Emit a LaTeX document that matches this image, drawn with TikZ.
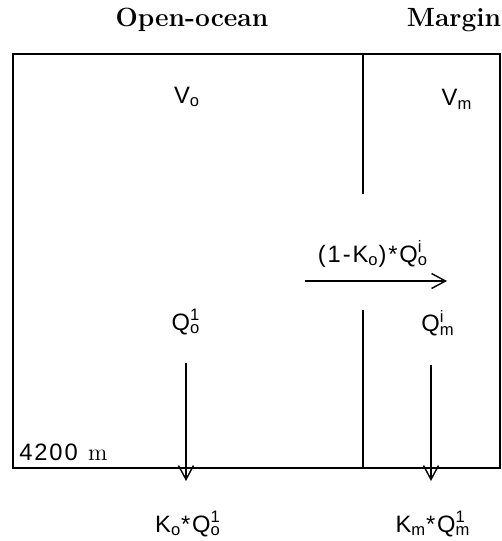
\documentclass[tikz,border=0pt]{standalone}
\usepackage{fontspec}
\setsansfont{Liberation Sans}[LetterSpace=8]
\usetikzlibrary{arrows.meta}

\newcommand{\qty}[3]{#1\rlap{\textsuperscript{#2}}\textsubscript{#3}}

\begin{document}
\begin{tikzpicture}[x=0.02cm, y=-0.02cm]
    \tikzset{title/.style = {font=\fontsize{15}{17}\selectfont\bfseries, inner sep=0pt}}
    \tikzset{lbl/.style = {font=\fontsize{13.5}{15}\selectfont\sffamily, inner sep=0pt}}
    \tikzset{wall/.style = {line width=1.1pt}}
    \tikzset{edge/.style = {-{Straight Barb[length=0.28cm, width=0.3cm, line width=0.8pt]}, line width=0.8pt}}

    \useasboundingbox (0,0) rectangle (502,541);

    \node[title] (open) at (192,20) {Open-ocean};
    \node[title] (margin) at (454,20) {Margin};

    % basin and sill
    \draw[wall] (13,54) rectangle (500,468);
    \draw[wall] (363,54) -- (363,194);
    \draw[wall] (363,310) -- (363,468);

    \node[lbl] (Vo) at (187,97) {V\textsubscript{o}};
    \node[lbl] (Vm) at (457,99) {V\textsubscript{m}};
    \node[lbl] (Qo) at (186,322) {\qty{Q}{1}{o}};
    \node[lbl] (Qm) at (438,323) {\qty{Q}{i}{m}};
    \node[lbl] (ex) at (373,254) {(1-K\textsubscript{o})*\qty{Q}{i}{o}};
    \node[lbl] (Ko) at (188,524) {K\textsubscript{o}*\qty{Q}{1}{o}};
    \node[lbl] (Km) at (433,524) {K\textsubscript{m}*\qty{Q}{1}{m}};
    \node[lbl, anchor=west] (depth) at (19,452) {4200 \textrm{m}};

    \coordinate (ex1) at (305,281);
    \coordinate (ex2) at (447,281);
    \coordinate (o1) at (186,363);
    \coordinate (o2) at (186,481);
    \coordinate (m1) at (431,365);
    \coordinate (m2) at (431,481);

    \draw[edge] (ex1) -- (ex2);
    \draw[edge] (o1) -- (o2);
    \draw[edge] (m1) -- (m2);
\end{tikzpicture}
\end{document}
